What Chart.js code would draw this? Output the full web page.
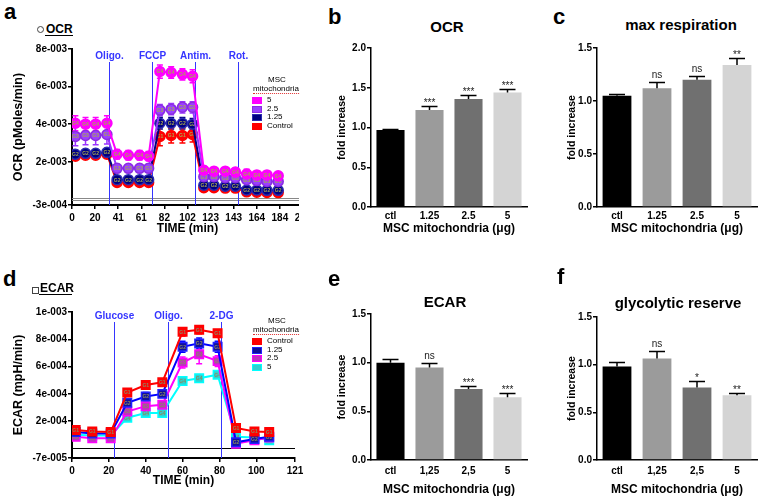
<!DOCTYPE html>
<html><head><meta charset="utf-8">
<script src="https://cdn.jsdelivr.net/npm/chart.js@4.4.1/dist/chart.umd.min.js"></script>
<style>
html,body{margin:0;padding:0;background:#fff;}
body{width:765px;height:501px;position:relative;overflow:hidden;font-family:"Liberation Sans",Arial,sans-serif;color:#000;}
.t{position:absolute;white-space:nowrap;}
.box{position:absolute;}
canvas{display:block;}
</style></head>
<body>
<div class="box" style="left:0;top:40px;width:299px;height:200px;overflow:hidden;"><canvas id="ca" width="315" height="200"></canvas></div>
<div class="box" style="left:0;top:295px;"><canvas id="cd" width="310" height="205"></canvas></div>
<div class="box" style="left:325px;top:35px;"><canvas id="cb" width="215" height="205"></canvas></div>
<div class="box" style="left:555px;top:35px;"><canvas id="cc" width="210" height="205"></canvas></div>
<div class="box" style="left:325px;top:290px;"><canvas id="ce" width="215" height="211"></canvas></div>
<div class="box" style="left:555px;top:290px;"><canvas id="cf" width="210" height="211"></canvas></div>
<script>
// ---------- DATA ----------
// Panel a: OCR time course
const ocrTimes = [3,12,21,31, 40,50,60,68, 78,88,98,107, 117,126,136,145, 155,164,173,183];
const ocrLegend = ['5','2.5','1.25','Control'];
const ocr5    = [0.00405,0.0040,0.0040,0.00405, 0.0024,0.00235,0.00235,0.0023, 0.0068,0.00675,0.00665,0.00655, 0.00155,0.0015,0.0015,0.00145, 0.00135,0.0013,0.0013,0.00125];
const ocr2_5  = [0.00335,0.0034,0.0034,0.00345, 0.00165,0.00165,0.00165,0.00165, 0.00475,0.0048,0.0049,0.0049, 0.0012,0.0012,0.00115,0.00115, 0.00105,0.001,0.00095,0.00095];
const ocr1_25 = [0.0024,0.00245,0.00245,0.0025, 0.00105,0.00105,0.00105,0.00105, 0.00405,0.00405,0.00405,0.004, 0.00075,0.00075,0.0007,0.0007, 0.0005,0.0005,0.00048,0.00048];
const ocrCtl  = [0.0023,0.00235,0.00235,0.0024, 0.0009,0.0009,0.0009,0.0009, 0.00335,0.0034,0.0034,0.00345, 0.00062,0.00062,0.0006,0.0006, 0.0004,0.00038,0.00037,0.00036];
const ocr5Err    = [0.0004,0.00035,0.00035,0.0004, 0.00025,0.00025,0.00025,0.00025, 0.00035,0.0003,0.0003,0.00035, 0.0002,0.0002,0.0002,0.0002, 0.00025,0.0002,0.0002,0.0002];
const ocr2_5Err  = [0.0005,0.0005,0.0005,0.0005, 0.0002,0.0002,0.0002,0.0002, 0.0003,0.0003,0.0003,0.0003, 0.00015,0.00015,0.00015,0.00015, 0.00015,0.00015,0.00015,0.00015];
const ocr1_25Err = [0.0002,0.0002,0.0002,0.0002, 0.00015,0.00015,0.00015,0.00015, 0.0003,0.0003,0.0003,0.0003, 0.0001,0.0001,0.0001,0.0001, 0.0001,0.0001,0.0001,0.0001];
const ocrCtlErr  = [0.00015,0.00015,0.00015,0.00015, 0.00015,0.00015,0.00015,0.00015, 0.0005,0.0004,0.0004,0.0004, 0.0001,0.0001,0.0001,0.0001, 0.0001,0.0001,0.0001,0.0001];
const ocrXTicks = [0,20.5,41,61.5,82,102.5,123,143.5,164,184.5,205];
const ocrXLabels = ['0','20','41','61','82','102','123','143','164','184','205'];
const ocrYTicks = [-0.0003,0.002,0.004,0.006,0.008];
const ocrYLabels = ['-3e-004','2e-003','4e-003','6e-003','8e-003'];
const ocrInjLabels = ['Oligo.','FCCP','Antim.','Rot.'];
const ocrInjTimes = [33,71,109,147];

// Panel d: ECAR time course
const ecarTimes = [2,11,21, 30,40,49, 60,69,79, 89,99,107];
const ecarLegend = ['Control','1.25','2.5','5'];
const ecarCtl  = [0.000135,0.000125,0.00012, 0.00041,0.000465,0.000485, 0.000855,0.00087,0.000845, 0.00015,0.000125,0.00012];
const ecar1_25 = [0.00012,0.00011,0.00011, 0.000335,0.00038,0.0004, 0.000745,0.00077,0.000745, 0.000045,0.00007,0.000085];
const ecar2_5  = [0.000085,0.000075,0.000075, 0.00027,0.00031,0.00032, 0.00063,0.00069,0.00064, 0.000035,0.00006,0.00008];
const ecar5    = [0.0001,0.000095,0.000095, 0.000225,0.00026,0.00026, 0.000495,0.000515,0.00054, 0.000085,0.00008,0.00006];
const ecarCtlErr  = [0.00001,0.00001,0.00001, 0.00002,0.000015,0.000015, 0.00003,0.00003,0.00002, 0.00001,0.00001,0.00001];
const ecar1_25Err = [0.00001,0.00001,0.00001, 0.00002,0.00003,0.00002, 0.00004,0.00004,0.00004, 0.00001,0.00001,0.00001];
const ecar2_5Err  = [0.00001,0.00001,0.00001, 0.00002,0.00002,0.00002, 0.00004,0.00007,0.00004, 0.00001,0.00001,0.00001];
const ecar5Err    = [0.00001,0.00001,0.00001, 0.00001,0.00001,0.00001, 0.00001,0.00001,0.00002, 0.00001,0.00001,0.00001];
const ecarXTicks = [0,20,40,60,80,100,121];
const ecarXLabels = ['0','20','40','60','80','100','121'];
const ecarYTicks = [-0.00007,0.0002,0.0004,0.0006,0.0008,0.001];
const ecarYLabels = ['-7e-005','2e-004','4e-004','6e-004','8e-004','1e-003'];
const ecarInjLabels = ['Glucose','Oligo.','2-DG'];
const ecarInjTimes = [22.8,52,81];

// Bar panels
const catsDot = ['ctl','1.25','2.5','5'];
const catsComma = ['ctl','1,25','2,5','5'];
const ocrFold = [0.97,1.22,1.36,1.44];
const ocrFoldErr = [0.01,0.05,0.05,0.04];
const ocrFoldSig = ['','***','***','***'];
const maxResp = [1.05,1.12,1.20,1.34];
const maxRespErr = [0.02,0.06,0.04,0.07];
const maxRespSig = ['','ns','ns','**'];
const ecarFold = [1.00,0.95,0.73,0.645];
const ecarFoldErr = [0.04,0.05,0.03,0.045];
const ecarFoldSig = ['','ns','***','***'];
const glycRes = [0.98,1.065,0.76,0.68];
const glycResErr = [0.045,0.075,0.065,0.025];
const glycResSig = ['','ns','*','**'];

// ---------- TEXT HELPERS ----------
function txt(x, base, s, size, weight, align, extra){
  const d = document.createElement('div');
  d.className = 't';
  d.textContent = s;
  d.style.fontSize = size + 'px';
  d.style.lineHeight = size + 'px';
  d.style.fontWeight = weight || 'normal';
  d.style.top = (base - 0.8465*size) + 'px';
  d.style.left = x + 'px';
  if (align === 'center') d.style.transform = 'translateX(-50%)';
  if (extra) Object.assign(d.style, extra);
  document.body.appendChild(d);
  return d;
}
function rect(x,y,w,h,style){
  const d=document.createElement('div'); d.className='box';
  Object.assign(d.style,{left:x+'px',top:y+'px',width:w+'px',height:h+'px'},style||{});
  document.body.appendChild(d); return d;
}
// panel letters
txt(4,20,'a',22,'bold'); txt(328,25,'b',22,'bold'); txt(553,25,'c',22,'bold');
txt(3,287,'d',22,'bold'); txt(328,287,'e',22,'bold'); txt(557,285,'f',22,'bold');
// headers
rect(37,26,5,5,{border:'1px solid #444',borderRadius:'50%'});
txt(46,33,'OCR',12,'bold'); rect(45,35,28,1,{background:'#000'});
rect(32,287,5,5,{border:'1px solid #444'});
txt(40,292,'ECAR',12,'bold'); rect(39,294,33,1,{background:'#000'});
// bar titles
txt(447,32,'OCR',15,'bold','center');
txt(681,30,'max respiration',15,'bold','center');
txt(445,307,'ECAR',15,'bold','center');
txt(678,308,'glycolytic reserve',15,'bold','center');
// legends
function legend(x, yTop, labels, fills, edges){
  txt(277,yTop,'MSC',8,'normal','center');
  txt(276,yTop+9,'mitochondria',8,'normal','center',{borderBottom:'1px dotted #e03030'});
  labels.forEach((l,i)=>{
    const cy = yTop + 17 + i*8.6;
    rect(x, cy-3, 8, 5, {background:fills[i], border:'1px solid '+edges[i]});
    txt(x+15, cy+3, l, 8, 'normal');
  });
}
const ocrFill = ['#ff00ff','#9a40ff','#000080','#ff0000'];
const ocrEdge = ['#ff00ff','#8a2be2','#2a2ab0','#ff0000'];
const ocrLine = ['#ff00ff','#9933ff','#000080','#ff0000'];
const ecarFill = ['#ff0000','#10109a','#c030c0','#30d0d0'];
const ecarEdge = ['#ff0000','#2020ff','#ff00ff','#00ffff'];
const ecarLine = ['#ff0000','#0000ff','#ff00ff','#00ffff'];
legend(252, 83, ocrLegend, ocrFill, ocrEdge);
legend(252, 324, ecarLegend, ecarFill, ecarEdge);

// ---------- CHART.JS ----------
Chart.defaults.font.family = "'Liberation Sans', Arial, Helvetica, sans-serif";
Chart.defaults.color = '#000';

const injections = {
  id:'injections',
  beforeDatasetsDraw(chart, args, o){
    if(!o || !o.times) return;
    const {ctx, chartArea:{top,bottom,left,right}, scales:{x,y}} = chart;
    ctx.save();
    const y0 = Math.round(y.getPixelForValue(0));
    ctx.strokeStyle = o.zeroColor; ctx.lineWidth = 1;
    o.zeroLines.forEach(off=>{ctx.beginPath(); ctx.moveTo(left, y0+off+0.5); ctx.lineTo(right, y0+off+0.5); ctx.stroke();});
    ctx.strokeStyle = o.color; ctx.fillStyle = o.color; ctx.lineWidth = 1;
    ctx.font = "bold 10px 'Liberation Sans', Arial"; ctx.textAlign='center'; ctx.textBaseline='middle';
    o.times.forEach((t,i)=>{
      const px = Math.round(x.getPixelForValue(t))+0.5;
      ctx.beginPath(); ctx.moveTo(px, top+o.lineTop); ctx.lineTo(px, bottom); ctx.stroke();
      ctx.fillText(o.labels[i], px, top+o.labelY);
    });
    ctx.restore();
  }
};
const lineErr = {
  id:'lineErr',
  beforeDatasetsDraw(chart){
    const {ctx, scales:{y}} = chart;
    ctx.save();
    chart.data.datasets.forEach((ds,di)=>{
      if(!ds.errors) return;
      const meta = chart.getDatasetMeta(di);
      ctx.strokeStyle = ds.borderColor; ctx.lineWidth = 1.5;
      meta.data.forEach((pt,i)=>{
        const v = ds.data[i].y, e = ds.errors[i];
        const y1 = y.getPixelForValue(v+e), y2 = y.getPixelForValue(v-e);
        ctx.beginPath(); ctx.moveTo(pt.x,y1); ctx.lineTo(pt.x,y2);
        ctx.moveTo(pt.x-3,y1); ctx.lineTo(pt.x+3,y1);
        ctx.moveTo(pt.x-3,y2); ctx.lineTo(pt.x+3,y2); ctx.stroke();
      });
    });
    ctx.restore();
  }
};
const pointTags = {
  id:'pointTags',
  afterDatasetDraw(chart, args, o){
    if(!o || !o.color) return;
    const ds = chart.data.datasets[args.index];
    const {ctx} = chart;
    ctx.save();
    ctx.font = "bold 5px 'Liberation Sans', Arial"; ctx.fillStyle = o.color;
    ctx.textAlign='center'; ctx.textBaseline='middle';
    args.meta.data.forEach(p=>ctx.fillText(ds.tag, p.x, p.y+0.5));
    ctx.restore();
  }
};
const barErr = {
  id:'barErr',
  afterDatasetsDraw(chart, args, o){
    if(!o || !o.errors) return;
    const {ctx, scales:{y}} = chart;
    const ds = chart.data.datasets[0];
    const meta = chart.getDatasetMeta(0);
    ctx.save();
    ctx.strokeStyle='#000'; ctx.fillStyle='#222'; ctx.lineWidth=1.5; ctx.textAlign='center'; ctx.textBaseline='alphabetic';
    meta.data.forEach((bar,i)=>{
      const yt = Math.round(y.getPixelForValue(ds.data[i]+o.errors[i]))+0.5;
      ctx.beginPath(); ctx.moveTo(bar.x, bar.y); ctx.lineTo(bar.x, yt);
      ctx.moveTo(bar.x-8, yt); ctx.lineTo(bar.x+8, yt); ctx.stroke();
      const s = o.sig[i];
      if(s){
        ctx.font = "10px 'Liberation Sans', Arial";
        ctx.fillText(s, bar.x, s.indexOf('*')>=0 ? yt-1 : yt-5);
      }
    });
    ctx.restore();
  }
};

function lineChart(id, c){
  return new Chart(document.getElementById(id), {
    type:'line',
    data:{datasets: c.series.map((s)=>({
      label:s.label,
      data:c.times.map((t,i)=>({x:t, y:s.values[i]})),
      errors:s.errors, tag:s.tag,
      borderColor:s.line, backgroundColor:s.fill,
      pointBackgroundColor:s.fill, pointBorderColor:s.edge, pointBorderWidth:1.5,
      pointRadius:c.pointRadius, pointStyle:c.pointStyle,
      borderWidth:2, tension:0, fill:false
    }))},
    options:{
      responsive:false, animation:false, devicePixelRatio:1,
      layout:{padding:c.padding},
      plugins:{legend:{display:false}, tooltip:{enabled:false},
        injections:{times:c.injTimes, labels:c.injLabels, color:'#3535ff', lineTop:c.lineTop, labelY:c.labelY, zeroColor:c.zeroColor, zeroLines:c.zeroLines},
        pointTags:{color:c.tagColor}},
      scales:{
        x:{type:'linear', min:c.xMin, max:c.xMax,
          afterBuildTicks:s=>{s.ticks = c.xTicks.map(v=>({value:v}));},
          afterFit:s=>{s.height=c.xH;},
          ticks:{autoSkip:false, maxRotation:0, padding:3, font:{weight:'bold', size:10}, callback:(v,i)=>c.xLabels[i]},
          grid:{drawOnChartArea:false, drawTicks:true, tickLength:4, color:'#000', lineWidth:1.5},
          border:{display:true, color:'#000', width:2},
          title:{display:true, text:'TIME (min)', font:{weight:'bold', size:12}, padding:{top:4,bottom:4}}},
        y:{type:'linear', min:c.yMin, max:c.yMax,
          afterBuildTicks:s=>{s.ticks = c.yTicks.map(v=>({value:v}));},
          afterFit:s=>{s.width=c.yW;},
          ticks:{autoSkip:false, padding:1, font:{weight:'bold', size:10}, callback:(v,i)=>c.yLabels[i]},
          grid:{drawOnChartArea:false, drawTicks:true, tickLength:4, color:'#000', lineWidth:1.5},
          border:{display:true, color:'#000', width:2},
          title:{display:true, text:c.yTitle, font:{weight:'bold', size:12.5}, padding:{top:4,bottom:4}}}
      }
    },
    plugins:[injections, lineErr, pointTags]
  });
}

lineChart('ca', {
  times:ocrTimes,
  series:[
    {label:ocrLegend[0], values:ocr5, errors:ocr5Err, tag:'G4', fill:ocrFill[0], edge:ocrEdge[0], line:ocrLine[0]},
    {label:ocrLegend[1], values:ocr2_5, errors:ocr2_5Err, tag:'G3', fill:ocrFill[1], edge:ocrEdge[1], line:ocrLine[1]},
    {label:ocrLegend[2], values:ocr1_25, errors:ocr1_25Err, tag:'G2', fill:ocrFill[2], edge:ocrEdge[2], line:ocrLine[2]},
    {label:ocrLegend[3], values:ocrCtl, errors:ocrCtlErr, tag:'G1', fill:ocrFill[3], edge:ocrEdge[3], line:ocrLine[3]}
  ],
  pointRadius:5, pointStyle:'circle', tagColor:'#a8a850',
  padding:{top:9,left:7,right:12,bottom:0}, xH:35, yW:65,
  xMin:0, xMax:205, xTicks:ocrXTicks, xLabels:ocrXLabels,
  yMin:-0.0003, yMax:0.008, yTicks:ocrYTicks, yLabels:ocrYLabels,
  yTitle:'OCR (pMoles/min)',
  injTimes:ocrInjTimes, injLabels:ocrInjLabels, lineTop:13, labelY:7,
  zeroColor:'#888', zeroLines:[-1,1]
});

lineChart('cd', {
  times:ecarTimes,
  series:[
    {label:ecarLegend[0], values:ecarCtl, errors:ecarCtlErr, tag:'G1', fill:ecarFill[0], edge:ecarEdge[0], line:ecarLine[0]},
    {label:ecarLegend[1], values:ecar1_25, errors:ecar1_25Err, tag:'G2', fill:ecarFill[1], edge:ecarEdge[1], line:ecarLine[1]},
    {label:ecarLegend[2], values:ecar2_5, errors:ecar2_5Err, tag:'G3', fill:ecarFill[2], edge:ecarEdge[2], line:ecarLine[2]},
    {label:ecarLegend[3], values:ecar5, errors:ecar5Err, tag:'G4', fill:ecarFill[3], edge:ecarEdge[3], line:ecarLine[3]}
  ],
  pointRadius:6, pointStyle:'rect', tagColor:'#8a8a60',
  padding:{top:17,left:7,right:15,bottom:8}, xH:34, yW:65,
  xMin:0, xMax:121, xTicks:ecarXTicks, xLabels:ecarXLabels,
  yMin:-0.00007, yMax:0.001, yTicks:ecarYTicks, yLabels:ecarYLabels,
  yTitle:'ECAR (mpH/min)',
  injTimes:ecarInjTimes, injLabels:ecarInjLabels, lineTop:10, labelY:4,
  zeroColor:'#000', zeroLines:[0]
});

const barColors = ['#000000','#9b9b9b','#707070','#d4d4d4'];
function barChart(id, c){
  return new Chart(document.getElementById(id), {
    type:'bar',
    data:{labels:c.cats, datasets:[{data:c.vals, backgroundColor:barColors, borderWidth:0, barPercentage:0.72, categoryPercentage:1}]},
    options:{
      responsive:false, animation:false, devicePixelRatio:1,
      layout:{padding:c.padding},
      plugins:{legend:{display:false}, tooltip:{enabled:false}, barErr:{errors:c.errs, sig:c.sig}},
      scales:{
        x:{afterFit:s=>{s.height=c.xH;},
          ticks:{autoSkip:false, maxRotation:0, padding:c.xPad, font:{weight:'bold', size:10}},
          grid:{display:false, drawTicks:false},
          border:{display:true, color:'#000', width:1.5},
          title:{display:true, text:'MSC mitochondria (\u03bcg)', font:{weight:'bold', size:12}, padding:{top:4,bottom:4}}},
        y:{min:0, max:c.max,
          afterFit:s=>{s.width=c.yW;},
          ticks:{stepSize:0.5, padding:1, font:{weight:'bold', size:10}, callback:v=>v.toFixed(1)},
          grid:{drawOnChartArea:false, drawTicks:true, tickLength:4, color:'#000', lineWidth:1.5},
          border:{display:true, color:'#000', width:1.5},
          title:{display:true, text:'fold increase', font:{weight:'bold', size:10.5}, padding:{top:4,bottom:4}}}
      }
    },
    plugins:[barErr]
  });
}
barChart('cb', {cats:catsDot, vals:ocrFold, errs:ocrFoldErr, sig:ocrFoldSig, max:2.0,
  padding:{top:13,left:7,right:13,bottom:0}, yW:39, xH:33, xPad:3});
barChart('cc', {cats:catsDot, vals:maxResp, errs:maxRespErr, sig:maxRespSig, max:1.5,
  padding:{top:13,left:7,right:8,bottom:0}, yW:35, xH:33, xPad:3});
barChart('ce', {cats:catsComma, vals:ecarFold, errs:ecarFoldErr, sig:ecarFoldSig, max:1.5,
  padding:{top:24,left:7,right:13,bottom:0}, yW:39, xH:41, xPad:5});
barChart('cf', {cats:catsComma, vals:glycRes, errs:glycResErr, sig:glycResSig, max:1.5,
  padding:{top:27,left:7,right:8,bottom:0}, yW:35, xH:41, xPad:5});
</script>
</body></html>
